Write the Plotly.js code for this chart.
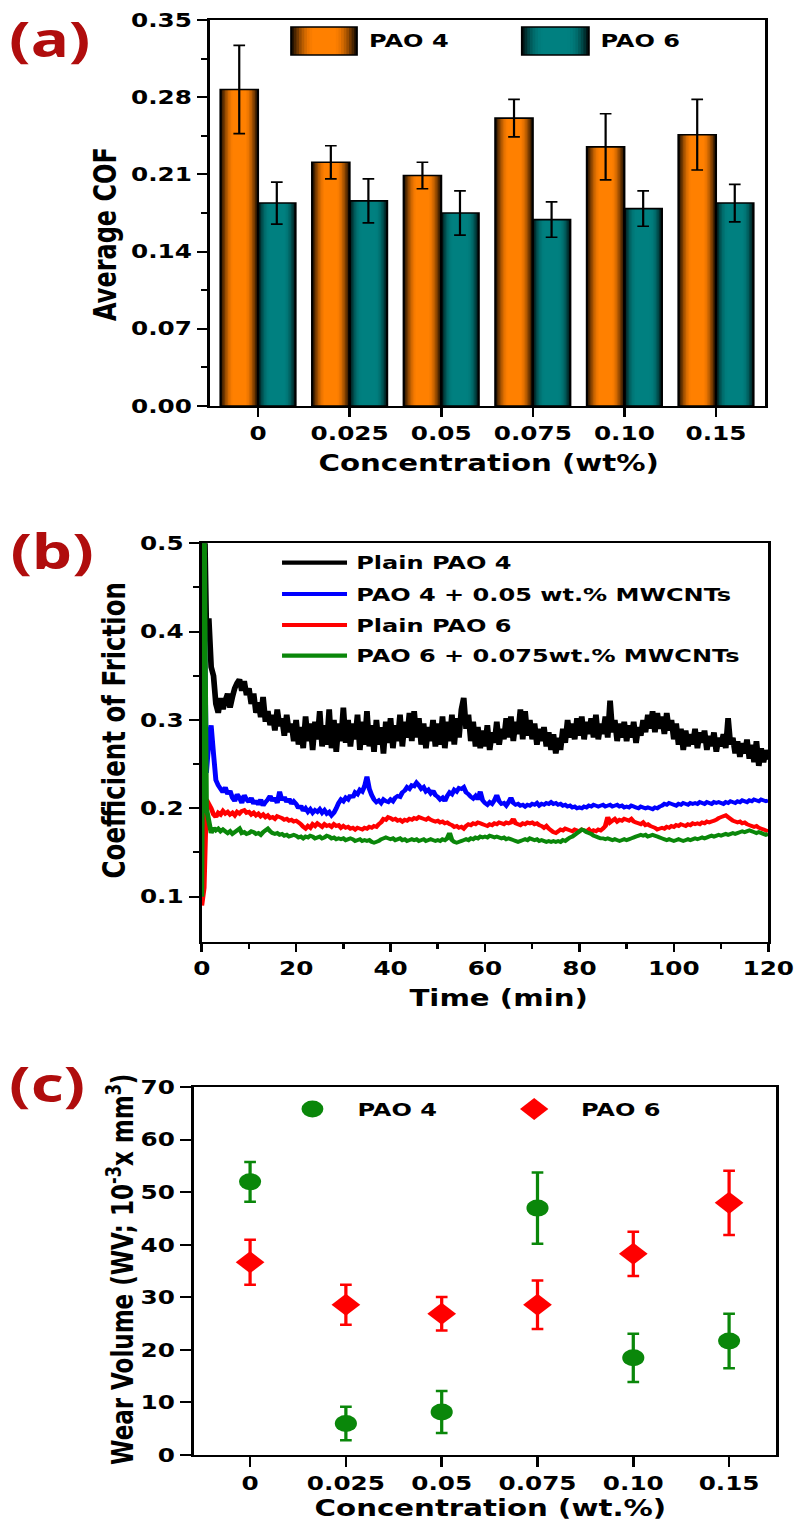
<!DOCTYPE html>
<html><head><meta charset="utf-8">
<script src="https://cdn.plot.ly/plotly-3.0.1.min.js"></script>
<style>
html,body{margin:0;padding:0;overflow:hidden;background:#fff;}
#wrap{width:798px;height:1524px;overflow:hidden;}
#chart{width:614px;height:1524px;transform:scaleX(1.2996743);transform-origin:0 0;}
</style></head>
<body><div id="wrap"><div id="chart"></div></div>
<script>
// ---------------- DATA ----------------
// (a) Average COF
const concCats = ['0','0.025','0.05','0.075','0.10','0.15'];
const cofPAO4 = [0.287, 0.221, 0.209, 0.261, 0.235, 0.246];
const cofPAO4Err = [0.040, 0.015, 0.012, 0.017, 0.030, 0.032];
const cofPAO6 = [0.184, 0.186, 0.175, 0.169, 0.179, 0.184];
const cofPAO6Err = [0.019, 0.020, 0.020, 0.016, 0.016, 0.017];
const cofTickVals = [0, 0.07, 0.14, 0.21, 0.28, 0.35];
const cofTickText = ['0.00','0.07','0.14','0.21','0.28','0.35'];
const cofMinorVals = [0.035, 0.105, 0.175, 0.245, 0.315];

// (b) COF vs time (min)
const timeMin = [
0,0.5,1,1.5,2,2.5,3,3.5,4,4.5,
5,5.5,6,6.5,7,7.5,8,8.5,9,9.5,
10,10.5,11,11.5,12,12.5,13,13.5,14,14.5,
15,15.5,16,16.5,17,17.5,18,18.5,19,19.5,
20,20.5,21,21.5,22,22.5,23,23.5,24,24.5,
25,25.5,26,26.5,27,27.5,28,28.5,29,29.5,
30,30.5,31,31.5,32,32.5,33,33.5,34,34.5,
35,35.5,36,36.5,37,37.5,38,38.5,39,39.5,
40,40.5,41,41.5,42,42.5,43,43.5,44,44.5,
45,45.5,46,46.5,47,47.5,48,48.5,49,49.5,
50,50.5,51,51.5,52,52.5,53,53.5,54,54.5,
55,55.5,56,56.5,57,57.5,58,58.5,59,59.5,
60,60.5,61,61.5,62,62.5,63,63.5,64,64.5,
65,65.5,66,66.5,67,67.5,68,68.5,69,69.5,
70,70.5,71,71.5,72,72.5,73,73.5,74,74.5,
75,75.5,76,76.5,77,77.5,78,78.5,79,79.5,
80,80.5,81,81.5,82,82.5,83,83.5,84,84.5,
85,85.5,86,86.5,87,87.5,88,88.5,89,89.5,
90,90.5,91,91.5,92,92.5,93,93.5,94,94.5,
95,95.5,96,96.5,97,97.5,98,98.5,99,99.5,
100,100.5,101,101.5,102,102.5,103,103.5,104,104.5,
105,105.5,106,106.5,107,107.5,108,108.5,109,109.5,
110,110.5,111,111.5,112,112.5,113,113.5,114,114.5,
115,115.5,116,116.5,117,117.5,118,118.5,119,119.5,
120];
const cofPlainPAO4 = [
0.10,0.56,0.40,0.415,0.36,0.35,0.318,0.308,0.325,0.312,
0.322,0.33,0.314,0.326,0.336,0.342,0.346,0.333,0.344,0.328,
0.336,0.318,0.33,0.308,0.32,0.303,0.326,0.298,0.31,0.294,
0.306,0.288,0.312,0.293,0.302,0.282,0.306,0.286,0.296,0.276,
0.3,0.272,0.292,0.268,0.304,0.276,0.296,0.266,0.298,0.278,
0.31,0.27,0.294,0.272,0.312,0.268,0.3,0.264,0.296,0.276,
0.314,0.274,0.3,0.27,0.296,0.278,0.306,0.266,0.298,0.272,
0.31,0.27,0.294,0.264,0.3,0.272,0.292,0.262,0.298,0.274,
0.302,0.268,0.294,0.276,0.306,0.27,0.298,0.28,0.308,0.276,
0.31,0.28,0.302,0.272,0.296,0.268,0.292,0.276,0.3,0.27,
0.296,0.272,0.304,0.268,0.298,0.276,0.306,0.272,0.302,0.28,
0.312,0.325,0.29,0.306,0.276,0.298,0.27,0.292,0.268,0.288,
0.27,0.294,0.266,0.286,0.274,0.298,0.272,0.29,0.278,0.302,
0.28,0.304,0.276,0.298,0.284,0.312,0.278,0.31,0.282,0.3,
0.278,0.296,0.272,0.29,0.276,0.292,0.27,0.286,0.266,0.284,
0.262,0.28,0.266,0.29,0.274,0.3,0.28,0.296,0.278,0.302,
0.282,0.304,0.278,0.298,0.284,0.302,0.28,0.306,0.278,0.296,
0.284,0.304,0.28,0.322,0.286,0.3,0.276,0.296,0.28,0.298,
0.276,0.294,0.28,0.298,0.274,0.292,0.282,0.3,0.286,0.306,
0.29,0.31,0.286,0.308,0.29,0.304,0.284,0.308,0.288,0.3,
0.278,0.296,0.272,0.29,0.266,0.288,0.27,0.284,0.272,0.29,
0.268,0.286,0.274,0.288,0.266,0.282,0.27,0.286,0.264,0.28,
0.27,0.284,0.268,0.302,0.272,0.28,0.262,0.276,0.258,0.274,
0.262,0.278,0.256,0.272,0.252,0.276,0.248,0.268,0.252,0.266,
0.255];
const cofPAO4CNT = [
0.10,0.45,0.24,0.275,0.294,0.262,0.232,0.226,0.222,0.218,
0.224,0.216,0.22,0.212,0.208,0.216,0.212,0.206,0.215,0.21,
0.207,0.212,0.205,0.209,0.204,0.21,0.203,0.207,0.21,0.214,
0.208,0.212,0.206,0.219,0.209,0.213,0.207,0.211,0.205,0.208,
0.205,0.2,0.203,0.197,0.2,0.196,0.199,0.195,0.198,0.196,
0.199,0.195,0.198,0.194,0.196,0.192,0.195,0.2,0.206,0.21,
0.208,0.212,0.21,0.215,0.212,0.218,0.216,0.221,0.219,0.225,
0.236,0.222,0.215,0.21,0.207,0.209,0.206,0.21,0.208,0.207,
0.21,0.208,0.212,0.214,0.213,0.218,0.22,0.224,0.222,0.226,
0.225,0.229,0.226,0.222,0.224,0.219,0.221,0.217,0.22,0.215,
0.213,0.21,0.212,0.208,0.214,0.218,0.216,0.221,0.219,0.223,
0.222,0.224,0.218,0.216,0.213,0.211,0.214,0.21,0.219,0.209,
0.206,0.204,0.207,0.205,0.209,0.215,0.208,0.205,0.206,0.203,
0.207,0.212,0.206,0.204,0.205,0.203,0.204,0.202,0.204,0.203,
0.205,0.204,0.206,0.203,0.205,0.204,0.206,0.205,0.207,0.205,
0.206,0.204,0.205,0.203,0.204,0.202,0.203,0.201,0.202,0.2,
0.201,0.2,0.202,0.201,0.203,0.202,0.204,0.203,0.202,0.203,
0.204,0.202,0.203,0.204,0.202,0.203,0.204,0.202,0.203,0.201,
0.202,0.201,0.203,0.202,0.201,0.2,0.202,0.201,0.2,0.201,
0.2,0.199,0.201,0.2,0.202,0.203,0.205,0.204,0.206,0.205,
0.204,0.203,0.205,0.204,0.206,0.205,0.204,0.206,0.205,0.206,
0.205,0.207,0.206,0.205,0.207,0.206,0.205,0.207,0.206,0.207,
0.206,0.205,0.207,0.206,0.208,0.207,0.206,0.208,0.207,0.209,
0.208,0.207,0.209,0.208,0.21,0.209,0.208,0.21,0.209,0.208,
0.209];
const cofPlainPAO6 = [
0.09,0.11,0.21,0.205,0.2,0.193,0.19,0.195,0.193,0.197,
0.194,0.196,0.193,0.195,0.192,0.196,0.194,0.197,0.198,0.195,
0.196,0.193,0.195,0.192,0.194,0.191,0.193,0.19,0.192,0.189,
0.19,0.188,0.191,0.19,0.189,0.187,0.188,0.186,0.187,0.185,
0.186,0.184,0.182,0.179,0.177,0.18,0.178,0.182,0.18,0.183,
0.181,0.179,0.182,0.18,0.181,0.179,0.182,0.18,0.181,0.178,
0.18,0.178,0.179,0.177,0.178,0.176,0.178,0.177,0.176,0.178,
0.177,0.179,0.178,0.18,0.179,0.182,0.184,0.188,0.187,0.19,
0.189,0.187,0.188,0.186,0.187,0.185,0.187,0.186,0.188,0.187,
0.189,0.188,0.19,0.189,0.188,0.187,0.189,0.187,0.186,0.185,
0.186,0.184,0.185,0.183,0.184,0.182,0.181,0.179,0.18,0.178,
0.179,0.177,0.18,0.182,0.181,0.183,0.182,0.184,0.183,0.182,
0.181,0.18,0.182,0.181,0.183,0.182,0.184,0.183,0.182,0.184,
0.183,0.184,0.188,0.183,0.182,0.181,0.183,0.182,0.184,0.183,
0.184,0.182,0.183,0.181,0.18,0.178,0.18,0.177,0.175,0.173,
0.172,0.174,0.176,0.175,0.177,0.176,0.175,0.174,0.176,0.175,
0.174,0.176,0.175,0.174,0.176,0.173,0.175,0.174,0.176,0.175,
0.177,0.18,0.19,0.184,0.186,0.188,0.185,0.187,0.186,0.188,
0.187,0.186,0.188,0.185,0.184,0.183,0.182,0.184,0.181,0.182,
0.18,0.179,0.178,0.176,0.177,0.178,0.177,0.179,0.178,0.18,
0.179,0.181,0.18,0.182,0.181,0.18,0.182,0.181,0.183,0.182,
0.183,0.182,0.184,0.183,0.185,0.184,0.185,0.186,0.187,0.189,
0.19,0.191,0.192,0.19,0.188,0.186,0.185,0.184,0.185,0.183,
0.184,0.182,0.181,0.18,0.179,0.18,0.178,0.177,0.176,0.175,
0.174];
const cofPAO6CNT = [
0.1,0.55,0.2,0.186,0.172,0.178,0.175,0.177,0.174,0.176,
0.174,0.172,0.174,0.171,0.173,0.175,0.177,0.172,0.173,0.171,
0.172,0.174,0.173,0.171,0.172,0.17,0.173,0.175,0.177,0.174,
0.172,0.171,0.172,0.17,0.171,0.169,0.17,0.168,0.169,0.17,
0.169,0.167,0.168,0.166,0.168,0.167,0.169,0.168,0.166,0.167,
0.168,0.166,0.167,0.169,0.168,0.166,0.167,0.165,0.166,0.165,
0.166,0.164,0.165,0.166,0.165,0.163,0.164,0.165,0.163,0.164,
0.163,0.164,0.162,0.161,0.162,0.163,0.165,0.166,0.167,0.166,
0.165,0.166,0.164,0.165,0.166,0.164,0.165,0.163,0.164,0.165,
0.164,0.165,0.163,0.164,0.165,0.163,0.164,0.165,0.164,0.163,
0.164,0.163,0.165,0.164,0.166,0.172,0.164,0.162,0.161,0.162,
0.163,0.164,0.165,0.164,0.166,0.165,0.167,0.166,0.168,0.167,
0.168,0.167,0.169,0.168,0.167,0.168,0.167,0.166,0.167,0.165,
0.166,0.165,0.164,0.163,0.162,0.163,0.164,0.165,0.164,0.166,
0.165,0.164,0.165,0.163,0.164,0.163,0.162,0.163,0.162,0.163,
0.162,0.163,0.162,0.164,0.163,0.165,0.167,0.168,0.17,0.172,
0.174,0.176,0.175,0.173,0.172,0.171,0.169,0.168,0.167,0.166,
0.166,0.165,0.166,0.165,0.164,0.165,0.164,0.163,0.164,0.165,
0.164,0.165,0.166,0.167,0.168,0.169,0.17,0.169,0.17,0.168,
0.169,0.17,0.169,0.168,0.167,0.166,0.165,0.164,0.165,0.164,
0.163,0.164,0.165,0.164,0.163,0.164,0.165,0.164,0.165,0.166,
0.165,0.166,0.167,0.166,0.167,0.168,0.169,0.168,0.169,0.17,
0.169,0.17,0.171,0.17,0.171,0.172,0.171,0.172,0.173,0.174,
0.173,0.174,0.175,0.174,0.173,0.172,0.173,0.172,0.171,0.17,
0.171];
const timeTickVals = [0,20,40,60,80,100,120];
const timeMinorVals = [10,30,50,70,90,110];
const cofTimeTickVals = [0.1,0.2,0.3,0.4,0.5];
const cofTimeTickText = ['0.1','0.2','0.3','0.4','0.5'];
const cofTimeMinorVals = [0.15,0.25,0.35,0.45];
const seriesNamesB = ['Plain PAO 4','PAO 4 + 0.05 wt.% MWCNTs','Plain PAO 6','PAO 6 + 0.075wt.% MWCNTs'];
const seriesColorsB = ['#000000','#0000ff','#ff0000','#0a870a'];

// (c) Wear volume
const wvPAO4 = [52.0, 6.0, 8.2, 47.0, 18.5, 21.7];
const wvPAO4Err = [3.8, 3.2, 4.0, 6.8, 4.6, 5.2];
const wvPAO6 = [36.7, 28.6, 26.9, 28.6, 38.3, 48.0];
const wvPAO6Err = [4.3, 3.8, 3.2, 4.6, 4.2, 6.1];
const wvTickVals = [0,10,20,30,40,50,60,70];

// ---------------- LAYOUT HELPERS ----------------
const W = 614, H = 1524;
const px = u => u / W;
const py = y => (H - y) / H;
const FAM = 'DejaVu Sans';
const tickFont = {family: FAM, size: 19, color: '#000', weight: 700};
const labelFont = {family: 'Noto Sans', size: 49, color: '#b00d0d', weight: 700};

const layerFrac = [1, 0.92, 0.84, 0.76, 0.68, 0.60, 0.52, 0.44, 0.36];
const orangeShades = ['#1e0f00','#4a2500','#733900','#994c00','#ba5d00','#d66b00','#eb7500','#f87c00','#ff8000'];
const tealShades = ['#001515','#003030','#004848','#005c5c','#006b6b','#007575','#007c7c','#007f7f','#008080'];
const barW = 0.41;

const traces = [];
// (a) bars with layered shading
layerFrac.forEach((f, i) => {
  const w = barW * f;
  traces.push({type:'bar', x: concCats, y: cofPAO4, width: w, offset: -barW/2 - w/2,
    marker:{color: orangeShades[i], line:{width:0}}, xaxis:'x', yaxis:'y', showlegend:false, hoverinfo:'skip'});
  traces.push({type:'bar', x: concCats, y: cofPAO6, width: w, offset: barW/2 - w/2,
    marker:{color: tealShades[i], line:{width:0}}, xaxis:'x', yaxis:'y', showlegend:false, hoverinfo:'skip'});
});
traces.push({type:'bar', name:'PAO 4', x: concCats, y: cofPAO4, width: barW, offset: -barW,
  marker:{color:'rgba(0,0,0,0)', line:{color:'#000', width:1.6}},
  error_y:{type:'data', array: cofPAO4Err, visible:true, color:'#000', thickness:1.7, width:4.5},
  xaxis:'x', yaxis:'y', showlegend:false});
traces.push({type:'bar', name:'PAO 6', x: concCats, y: cofPAO6, width: barW, offset: 0,
  marker:{color:'rgba(0,0,0,0)', line:{color:'#000', width:1.6}},
  error_y:{type:'data', array: cofPAO6Err, visible:true, color:'#000', thickness:1.7, width:4.5},
  xaxis:'x', yaxis:'y', showlegend:false});

// (b) lines
[cofPlainPAO4, cofPAO4CNT, cofPlainPAO6, cofPAO6CNT].forEach((ys, i) => {
  traces.push({type:'scatter', mode:'lines', name: seriesNamesB[i], x: timeMin, y: ys,
    line:{color: seriesColorsB[i], width: i === 0 ? 4.4 : 3.8, simplify:false}, xaxis:'x2', yaxis:'y2', showlegend:false});
});

// (c) markers
traces.push({type:'scatter', mode:'markers', name:'PAO 4', x: concCats, y: wvPAO4,
  marker:{symbol:'circle', size:17, color:'#0a870a'},
  error_y:{type:'data', array: wvPAO4Err, visible:true, color:'#0a870a', thickness:2.5, width:4.5},
  xaxis:'x3', yaxis:'y3', showlegend:false, cliponaxis:false});
traces.push({type:'scatter', mode:'markers', name:'PAO 6', x: concCats, y: wvPAO6,
  marker:{symbol:'diamond', size:17, color:'#ff0000'},
  error_y:{type:'data', array: wvPAO6Err, visible:true, color:'#ff0000', thickness:2.5, width:4.5},
  xaxis:'x3', yaxis:'y3', showlegend:false, cliponaxis:false});

const axBase = {showline:true, mirror:true, linecolor:'#000', linewidth:2.4, ticks:'outside', tickcolor:'#000',
  tickwidth:2, tickfont: tickFont, showgrid:false, zeroline:false, fixedrange:true};

const shapes = [];
const annotations = [];
function ann(text, xu, y, size, opts) {
  annotations.push(Object.assign({text, xref:'paper', yref:'paper', x: px(xu), y: py(y), showarrow:false,
    xanchor:'center', yanchor:'middle', font:{family:FAM, size, color:'#000', weight:700}}, opts || {}));
}
// panel labels
ann('(a)', 38.5, 38, 49, {font: labelFont});
ann('(b)', 39.5, 550, 49, {font: labelFont});
ann('(c)', 36.5, 1083, 49, {font: labelFont});
// axis titles
ann('Average COF', 81.5, 234.5, 24, {textangle:-90});
ann('Concentration (wt%)', 376, 463, 22.5);
ann('Coefficient of Friction', 88, 730.5, 24.5, {textangle:-90});
ann('Time (min)', 384, 998, 22.5);
ann('Wear Volume (WV; 10<sup>-3</sup>x mm<sup>3</sup>)', 93, 1270, 23, {textangle:-90});
ann('Concentration (wt.%)', 377, 1508, 22.5);

// (a) legend swatches
function swatch(cx, w, y0, y1, shades) {
  layerFrac.forEach((f, i) => {
    const hw = w * f / 2;
    shapes.push({type:'rect', xref:'paper', yref:'paper', x0:px(cx-hw), x1:px(cx+hw), y0:py(y1), y1:py(y0),
      fillcolor: shades[i], line:{width:0}, layer:'above'});
  });
  shapes.push({type:'rect', xref:'paper', yref:'paper', x0:px(cx-w/2), x1:px(cx+w/2), y0:py(y1), y1:py(y0),
    fillcolor:'rgba(0,0,0,0)', line:{color:'#000', width:1.5}, layer:'above'});
}
swatch(249.3, 50.6, 27, 55, orangeShades);
swatch(427.3, 51.5, 27, 55, tealShades);
ann('PAO 4', 282, 41, 18.5, {xanchor:'left'});
ann('PAO 6', 460, 41, 18.5, {xanchor:'left'});

// (b) legend
const legRowsB = [562.7, 594, 625, 655.7];
seriesNamesB.forEach((nm, i) => {
  shapes.push({type:'line', xref:'paper', yref:'paper', x0:px(217), x1:px(267), y0:py(legRowsB[i]), y1:py(legRowsB[i]),
    line:{color: seriesColorsB[i], width:4.2}, layer:'above'});
  ann(nm, 272.3, legRowsB[i], 18.5, {xanchor:'left'});
});

// (c) legend
shapes.push({type:'circle', xref:'paper', yref:'paper', x0:px(232), x1:px(248.8), y0:py(1117.4), y1:py(1100.6),
  fillcolor:'#0a870a', line:{width:0}, layer:'above'});
{
  const xc = 411, yc = 1109, hw = 10.9, hh = 11;
  shapes.push({type:'path', xref:'paper', yref:'paper',
    path:`M ${px(xc-hw)} ${py(yc)} L ${px(xc)} ${py(yc-hh)} L ${px(xc+hw)} ${py(yc)} L ${px(xc)} ${py(yc+hh)} Z`,
    fillcolor:'#ff0000', line:{width:0}, layer:'above'});
}
ann('PAO 4', 273, 1109, 18.5, {xanchor:'left'});
ann('PAO 6', 444.6, 1109, 18.5, {xanchor:'left'});

const layout = {
  width: W, height: H,
  margin:{l:0, r:0, t:0, b:0, pad:0},
  paper_bgcolor:'#ffffff', plot_bgcolor:'#ffffff',
  barmode:'overlay',
  showlegend:false,
  font:{family:FAM, color:'#000'},
  xaxis: Object.assign({}, axBase, {domain:[px(161.6), px(588.6)], anchor:'y', type:'category',
    range:[-0.524, 5.535], ticklen:9}),
  yaxis: Object.assign({}, axBase, {domain:[py(406), py(20)], anchor:'x', range:[0, 0.35],
    tickmode:'array', tickvals: cofTickVals, ticktext: cofTickText, ticklen:7.7,
    minor:{tickmode:'array', tickvals: cofMinorVals, ticks:'outside', ticklen:4.5, tickwidth:2, tickcolor:'#000'}}),
  xaxis2: Object.assign({}, axBase, {domain:[px(155.2), px(591.1)], anchor:'y2', range:[0, 120],
    tickmode:'array', tickvals: timeTickVals, ticklen:8,
    minor:{tickmode:'array', tickvals: timeMinorVals, ticks:'outside', ticklen:5, tickwidth:2, tickcolor:'#000'}}),
  yaxis2: Object.assign({}, axBase, {domain:[py(941.7), py(543.3)], anchor:'x2', range:[0.049, 0.5],
    tickmode:'array', tickvals: cofTimeTickVals, ticktext: cofTimeTickText, ticklen:7.7,
    minor:{tickmode:'array', tickvals: cofTimeMinorVals, ticks:'outside', ticklen:4.5, tickwidth:2, tickcolor:'#000'}}),
  xaxis3: Object.assign({}, axBase, {domain:[px(149.3), px(597.1)], anchor:'y3', type:'category',
    range:[-0.585, 5.49], ticklen:10}),
  yaxis3: Object.assign({}, axBase, {domain:[py(1455), py(1087.3)], anchor:'x3', range:[0, 70],
    tickmode:'array', tickvals: wvTickVals, ticklen:8.5}),
  shapes, annotations
};

Plotly.newPlot('chart', traces, layout, {displayModeBar:false, staticPlot:true});
</script>
</body></html>
